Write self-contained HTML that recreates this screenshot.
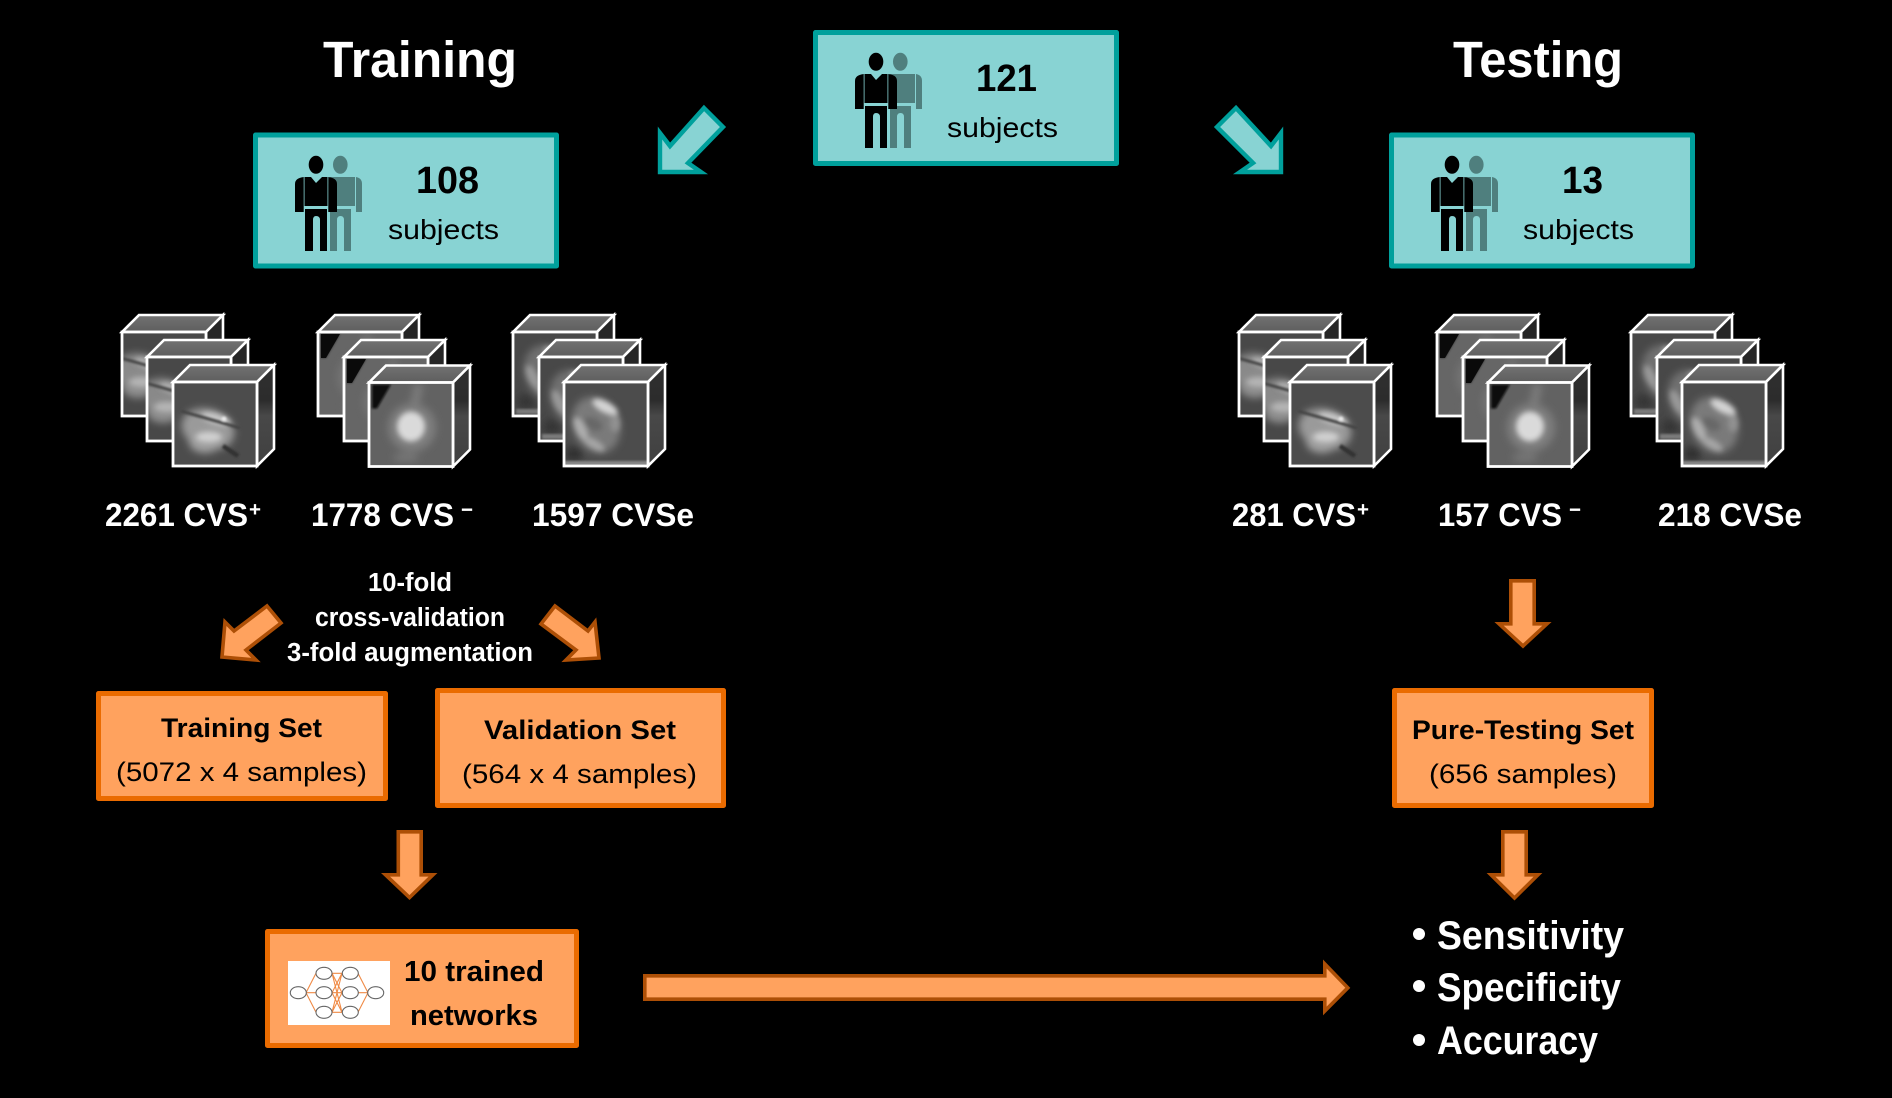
<!DOCTYPE html>
<html lang="en">
<head>
<meta charset="utf-8">
<title>Training and testing diagram</title>
<style>
html,body{margin:0;padding:0;background:#000;width:1892px;height:1098px;overflow:hidden}
svg{display:block}
text{font-family:"Liberation Sans",sans-serif}
.b{font-weight:bold}
</style>
</head>
<body>
<svg xmlns="http://www.w3.org/2000/svg" width="1892" height="1098" viewBox="0 0 1892 1098">
<defs>
<filter id="bl" x="-30%" y="-30%" width="160%" height="160%"><feGaussianBlur stdDeviation="4"/></filter>
<filter id="bm" x="-40%" y="-40%" width="180%" height="180%"><feGaussianBlur stdDeviation="2.6"/></filter>
<filter id="bs" x="-30%" y="-30%" width="160%" height="160%"><feGaussianBlur stdDeviation="1.1"/></filter>
<clipPath id="fc"><rect x="0" y="0" width="84" height="84"/></clipPath>
<linearGradient id="tg" x1="0" y1="0" x2="0" y2="1"><stop offset="0" stop-color="#727272"/><stop offset="1" stop-color="#5e5e5e"/></linearGradient>
<linearGradient id="sg" x1="0" y1="0" x2="0" y2="1"><stop offset="0" stop-color="#303030"/><stop offset=".35" stop-color="#2c2c2c"/><stop offset=".5" stop-color="#484848"/><stop offset="1" stop-color="#404040"/></linearGradient>

<g id="p1">
  <g filter="url(#bl)">
    <ellipse cx="35" cy="47" rx="27" ry="20" transform="rotate(18 35 47)" fill="#9a9a9a"/>
    <ellipse cx="32" cy="60" rx="16" ry="11" fill="#a2a2a2"/>
  </g>
  <g filter="url(#bm)">
    <ellipse cx="43" cy="37" rx="15" ry="5" transform="rotate(17 43 37)" fill="#cacaca"/>
    <ellipse cx="36" cy="55" rx="13" ry="5" fill="#d0d0d0"/>
  </g>
  <g filter="url(#bs)">
    <path d="M8 29 L67 46" stroke="#444" stroke-width="3" fill="none"/>
    <path d="M50 64 L65 74" stroke="#303030" stroke-width="4.5" fill="none"/>
    <circle cx="51" cy="37" r="2.4" fill="#ececec"/>
  </g>
</g>
<g id="p2">
  <g filter="url(#bl)">
    <ellipse cx="43" cy="45" rx="24" ry="24" fill="#7e7e7e"/>
    <path d="M50 2 L44 30" stroke="#7c7c7c" stroke-width="9" fill="none"/>
    <ellipse cx="37" cy="75" rx="13" ry="4" fill="#787878"/>
  </g>
  <g filter="url(#bm)">
    <ellipse cx="42" cy="44" rx="14" ry="15" fill="#dadada"/>
  </g>
  <g filter="url(#bs)">
    <polygon points="3,2 22,2 8,26 3,26" fill="#0a0a0a"/>
  </g>
</g>
<g id="p3">
  <g filter="url(#bl)">
    <ellipse cx="32" cy="43" rx="23" ry="29" transform="rotate(-25 32 43)" fill="#7a7a7a"/>
    <ellipse cx="10" cy="72" rx="9" ry="8" fill="#303030"/>
  </g>
  <g filter="url(#bm)">
    <ellipse cx="41" cy="25" rx="14" ry="5.5" transform="rotate(28 41 25)" fill="#d4d4d4"/>
    <ellipse cx="17" cy="47" rx="5" ry="13" transform="rotate(-25 17 47)" fill="#aeaeae"/>
    <ellipse cx="30" cy="62" rx="12" ry="4.5" transform="rotate(30 30 62)" fill="#a6a6a6"/>
    <ellipse cx="29" cy="42" rx="10" ry="6" transform="rotate(25 29 42)" fill="#686868"/>
    <ellipse cx="51" cy="41" rx="5" ry="9" fill="#929292"/>
  </g>
  <rect x="0" y="79" width="84" height="5" fill="#888" filter="url(#bs)"/>
</g>

<g id="cf">
  <polygon points="0,0 17,-17 101,-17 84,0" fill="url(#tg)" stroke="#fff" stroke-width="2.6"/>
  <polygon points="84,0 101,-17 101,67 84,84" stroke="#fff" stroke-width="2.6"/>
</g>
<g id="c1"><use href="#cf"/><g clip-path="url(#fc)"><rect width="84" height="84" fill="#4c4c4c"/><use href="#p1"/></g><rect width="84" height="84" fill="none" stroke="#fff" stroke-width="2.8"/></g>
<g id="c2"><use href="#cf"/><g clip-path="url(#fc)"><rect width="84" height="84" fill="#626262"/><use href="#p2"/></g><rect width="84" height="84" fill="none" stroke="#fff" stroke-width="2.8"/></g>
<g id="c3"><use href="#cf"/><g clip-path="url(#fc)"><rect width="84" height="84" fill="#4c4c4c"/><use href="#p3"/></g><rect width="84" height="84" fill="none" stroke="#fff" stroke-width="2.8"/></g>
<g id="c1b"><use href="#cf"/><g clip-path="url(#fc)"><rect width="84" height="84" fill="#484848"/><use href="#p1" x="-16" y="-5" opacity=".8"/></g><rect width="84" height="84" fill="none" stroke="#fff" stroke-width="2.8"/></g>
<g id="c2b"><use href="#cf"/><g clip-path="url(#fc)"><rect width="84" height="84" fill="#666"/><use href="#p2" opacity=".55"/><polygon points="3,2 22,2 8,26 3,26" fill="#0a0a0a"/></g><rect width="84" height="84" fill="none" stroke="#fff" stroke-width="2.8"/></g>
<g id="c3b"><use href="#cf"/><g clip-path="url(#fc)"><rect width="84" height="84" fill="#484848"/><use href="#p3" x="3" y="-2" opacity=".8"/></g><rect width="84" height="84" fill="none" stroke="#fff" stroke-width="2.8"/></g>

<g id="s1"><use href="#c1b" x="0" y="0" fill="#262626"/><use href="#c1b" x="25" y="25" fill="#262626"/><use href="#c1" x="51" y="50" fill="url(#sg)"/></g>
<g id="s2"><use href="#c2b" x="0" y="0" fill="#262626"/><use href="#c2b" x="26" y="25" fill="#262626"/><use href="#c2" x="51" y="50.5" fill="url(#sg)"/></g>
<g id="s3"><use href="#c3b" x="0" y="0" fill="#262626"/><use href="#c3b" x="26" y="25" fill="#262626"/><use href="#c3" x="51" y="50" fill="url(#sg)"/></g>

<g id="ppl">
  <g fill="#4f7f7e">
    <ellipse cx="45.3" cy="9.7" rx="7.3" ry="9"/>
    <path d="M35 22 H60 V51 H35 Z"/>
    <path d="M61 22 Q67 23 67 29 V57 H61 Z"/>
    <path d="M35 54 H56 V96 H49 V65 Q49 61 45.5 61 Q42 61 42 65 V96 H35 Z"/>
  </g>
  <ellipse cx="21" cy="9.7" rx="7.3" ry="9" fill="#000"/>
  <path d="M9.5 22 V51 H32.5 V22 H27 L21 28 L16 22 Z" fill="#000"/>
  <path d="M8.7 22 Q0 23 0 29 V57 H8.7 Z" fill="#000"/>
  <path d="M33.3 22 Q42 23 42 29 V57 H33.3 Z" fill="#000"/>
  <path d="M10 54 H32 V96 H25 V65 Q25 61 21 61 Q18 61 18 65 V96 H10 Z" fill="#000"/>
</g>
</defs>

<rect width="1892" height="1098" fill="#000"/>

<!-- Titles -->
<text class="b" x="323" y="77" font-size="51" fill="#fff" textLength="194" lengthAdjust="spacingAndGlyphs">Training</text>
<text class="b" x="1453" y="77" font-size="51" fill="#fff" textLength="170" lengthAdjust="spacingAndGlyphs">Testing</text>

<!-- Teal boxes -->
<g fill="#88d3d3" stroke="#00a09c" stroke-width="5" stroke-linejoin="round">
  <rect x="815.5" y="32.5" width="301" height="131"/>
  <rect x="255.5" y="135" width="301" height="131"/>
  <rect x="1391.5" y="135" width="301" height="131"/>
</g>
<use href="#ppl" x="855" y="52"/>
<use href="#ppl" x="295" y="155"/>
<use href="#ppl" x="1431" y="155"/>

<text class="b" x="976" y="91" font-size="38" fill="#000" textLength="61" lengthAdjust="spacingAndGlyphs">121</text>
<text x="947" y="137" font-size="28" fill="#000" textLength="111" lengthAdjust="spacingAndGlyphs">subjects</text>
<text class="b" x="416" y="193" font-size="38" fill="#000" textLength="63" lengthAdjust="spacingAndGlyphs">108</text>
<text x="388" y="239" font-size="28" fill="#000" textLength="111" lengthAdjust="spacingAndGlyphs">subjects</text>
<text class="b" x="1562" y="193" font-size="38" fill="#000" textLength="41" lengthAdjust="spacingAndGlyphs">13</text>
<text x="1523" y="239" font-size="28" fill="#000" textLength="111" lengthAdjust="spacingAndGlyphs">subjects</text>

<!-- Teal arrows -->
<g fill="#88d3d3" stroke="#00a09c" stroke-width="4.4" stroke-linejoin="miter">
  <polygon points="704,108 723,127 688,163 701,172 660,172 660,133 670,146"/>
  <polygon points="1236,108 1217,127 1253,163 1240,172 1281,172 1281,133 1271,146"/>
</g>

<!-- Cubes -->
<use href="#s1" x="122" y="332"/>
<use href="#s2" x="318" y="332"/>
<use href="#s3" x="513" y="332"/>
<use href="#s1" x="1239" y="332"/>
<use href="#s2" x="1437" y="332"/>
<use href="#s3" x="1631" y="332"/>

<!-- Class labels -->
<g class="b" font-size="32" fill="#fff" font-weight="bold">
  <text x="105" y="526" textLength="143" lengthAdjust="spacingAndGlyphs">2261 CVS</text>
  <text x="249" y="516" font-size="20" textLength="12" lengthAdjust="spacingAndGlyphs">+</text>
  <text x="311" y="526" textLength="143" lengthAdjust="spacingAndGlyphs">1778 CVS</text>
  <text x="461" y="517" font-size="22" textLength="12" lengthAdjust="spacingAndGlyphs">−</text>
  <text x="532" y="526" textLength="162" lengthAdjust="spacingAndGlyphs">1597 CVSe</text>
  <text x="1232" y="526" textLength="124" lengthAdjust="spacingAndGlyphs">281 CVS</text>
  <text x="1357" y="516" font-size="20" textLength="12" lengthAdjust="spacingAndGlyphs">+</text>
  <text x="1438" y="526" textLength="124" lengthAdjust="spacingAndGlyphs">157 CVS</text>
  <text x="1569" y="517" font-size="22" textLength="12" lengthAdjust="spacingAndGlyphs">−</text>
  <text x="1658" y="526" textLength="144" lengthAdjust="spacingAndGlyphs">218 CVSe</text>
</g>

<!-- Cross-validation text -->
<g font-size="25.5" fill="#fff" font-weight="bold">
  <text x="368" y="591" textLength="84" lengthAdjust="spacingAndGlyphs">10-fold</text>
  <text x="315" y="626" textLength="190" lengthAdjust="spacingAndGlyphs">cross-validation</text>
  <text x="287" y="661" textLength="246" lengthAdjust="spacingAndGlyphs">3-fold augmentation</text>
</g>

<!-- Orange arrows -->
<g fill="#ffa25e" stroke="#ad4f06" stroke-width="3.6" stroke-linejoin="miter">
  <polygon points="267,606 281,623 246,650 256,660 222,657 225,622 234,631"/>
  <polygon points="555,606 541,624 576,650 566,660 599,658 595,622 588,631"/>
  <polygon points="1510.8,580.8 1534.2,580.8 1534.2,623.8 1547,623.8 1523,646 1499,623.8 1510.8,623.8"/>
  <polygon points="1502.8,831.8 1526.2,831.8 1526.2,874.8 1538,874.8 1514.5,898 1491,874.8 1502.8,874.8"/>
  <polygon points="398.3,831.8 421.2,831.8 421.2,874.8 433,874.8 409.5,897.5 385.5,874.8 398.3,874.8"/>
  <polygon points="644.8,975.8 1324.8,975.8 1324.8,964 1347.8,987.8 1324.8,1011 1324.8,999.2 644.8,999.2"/>
</g>

<!-- Orange boxes -->
<g fill="#ffa25e" stroke="#ea6b00" stroke-width="5" stroke-linejoin="round">
  <rect x="98.5" y="693.5" width="287" height="105"/>
  <rect x="437.5" y="690.5" width="286" height="115"/>
  <rect x="1394.5" y="690.5" width="257" height="115"/>
  <rect x="267.5" y="931.5" width="309" height="114"/>
</g>

<g font-size="27" fill="#000">
  <text class="b" x="161" y="737" textLength="161" lengthAdjust="spacingAndGlyphs">Training Set</text>
  <text x="116" y="781" textLength="251" lengthAdjust="spacingAndGlyphs">(5072 x 4 samples)</text>
  <text class="b" x="484" y="739" textLength="192" lengthAdjust="spacingAndGlyphs">Validation Set</text>
  <text x="462" y="783" textLength="235" lengthAdjust="spacingAndGlyphs">(564 x 4 samples)</text>
  <text class="b" x="1412" y="739" textLength="222" lengthAdjust="spacingAndGlyphs">Pure-Testing Set</text>
  <text x="1429" y="783" textLength="188" lengthAdjust="spacingAndGlyphs">(656 samples)</text>
</g>

<!-- Network -->
<rect x="288" y="961" width="102" height="64" fill="#fff"/>
<g stroke="#f08a45" stroke-width="1.1" fill="none">
  <path d="M306 992.7 L316 973.3 M306 992.7 H316 M306 992.7 L316 1012.3"/>
  <path d="M332 973.3 H342 M332 973.3 L342 992.7 M332 973.3 L342 1012.3 M332 992.7 L342 973.3 M332 992.7 H342 M332 992.7 L342 1012.3 M332 1012.3 L342 973.3 M332 1012.3 L342 992.7 M332 1012.3 H342"/>
  <path d="M358 973.3 L368 992.7 M358 992.7 H368 M358 1012.3 L368 992.7"/>
</g>
<g fill="#fff" stroke="#666" stroke-width="1.1">
  <ellipse cx="298.3" cy="992.7" rx="8" ry="6"/>
  <ellipse cx="324" cy="973.3" rx="8" ry="6"/>
  <ellipse cx="324" cy="992.7" rx="8" ry="6"/>
  <ellipse cx="324" cy="1012.3" rx="8" ry="6"/>
  <ellipse cx="350.3" cy="973.3" rx="8" ry="6"/>
  <ellipse cx="350.3" cy="992.7" rx="8" ry="6"/>
  <ellipse cx="350.3" cy="1012.3" rx="8" ry="6"/>
  <ellipse cx="375.7" cy="992.7" rx="8" ry="6"/>
</g>
<g font-size="29" fill="#000" font-weight="bold">
  <text x="404" y="981" textLength="140" lengthAdjust="spacingAndGlyphs">10 trained</text>
  <text x="410" y="1025" textLength="128" lengthAdjust="spacingAndGlyphs">networks</text>
</g>

<!-- Metrics -->
<g fill="#fff">
  <circle cx="1419" cy="934" r="6"/>
  <circle cx="1419" cy="986" r="6"/>
  <circle cx="1419" cy="1040" r="6"/>
</g>
<g font-size="40" fill="#fff" font-weight="bold">
  <text x="1437" y="949" textLength="187" lengthAdjust="spacingAndGlyphs">Sensitivity</text>
  <text x="1437" y="1001" textLength="184" lengthAdjust="spacingAndGlyphs">Specificity</text>
  <text x="1437" y="1054" textLength="161" lengthAdjust="spacingAndGlyphs">Accuracy</text>
</g>
</svg>
</body>
</html>
